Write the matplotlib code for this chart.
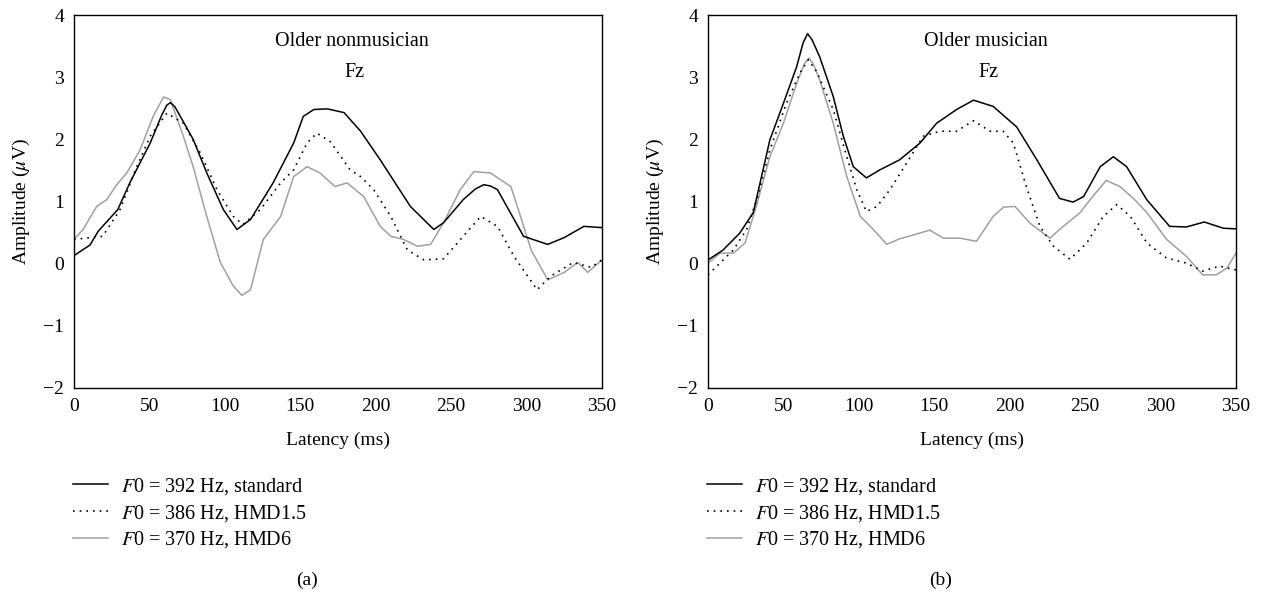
import numpy as np
import matplotlib.pyplot as plt
from matplotlib.lines import Line2D

plt.rcParams['font.family'] = ['Liberation Serif', 'DejaVu Serif']
plt.rcParams['mathtext.fontset'] = 'stix'

# ---- panel (a): older nonmusician ----
a_std_x = [0, 10.6, 16, 29, 37, 50.5, 58, 61.5, 64, 67, 79, 88, 99, 108, 117, 132, 145.6, 152, 159, 168, 179, 190,
           203, 223, 238.5, 245, 258, 266, 271.6, 276, 280.7, 298, 314, 325, 338, 350]
a_std_y = [0.13, 0.3, 0.52, 0.87, 1.3, 1.94, 2.38, 2.55, 2.59, 2.52, 2.0, 1.46, 0.87, 0.55, 0.71, 1.3, 1.94, 2.37,
           2.48, 2.49, 2.43, 2.13, 1.67, 0.92, 0.55, 0.66, 1.03, 1.2, 1.27, 1.25, 1.19, 0.44, 0.31, 0.42, 0.6, 0.58]

a_hmd15_x = [0, 19, 30.5, 41.6, 50.5, 61.5, 72.5, 83.7, 94.8, 105.6, 112, 123.5, 137, 145.6, 154.5, 161, 170, 183,
             190, 198.6, 210, 221, 232, 245, 258, 269.6, 280.7, 291.6, 307, 316, 331, 342.7, 350]
a_hmd15_y = [0.39, 0.44, 0.87, 1.56, 2.05, 2.42, 2.26, 1.78, 1.19, 0.76, 0.63, 0.87, 1.3, 1.51, 1.94, 2.1, 1.96,
             1.51, 1.4, 1.19, 0.76, 0.22, 0.06, 0.08, 0.44, 0.76, 0.6, 0.12, -0.42, -0.2, 0.02, -0.06, 0.06]

a_hmd6_x = [0, 6, 15, 21.7, 28.3, 35, 43.8, 52.5, 59.3, 63.8, 72.5, 79, 88, 97, 105.6, 111.3, 117, 125.5, 137,
            145.6, 154.5, 163, 173, 181, 192, 203, 210, 218.5, 227.6, 236.4, 245, 256, 265, 276, 289.6, 296,
            303, 314, 325, 334, 340.5, 350]
a_hmd6_y = [0.39, 0.55, 0.92, 1.03, 1.27, 1.46, 1.83, 2.37, 2.68, 2.64, 2.05, 1.56, 0.76, 0.02, -0.36, -0.51,
            -0.42, 0.39, 0.76, 1.4, 1.56, 1.46, 1.24, 1.3, 1.08, 0.6, 0.44, 0.39, 0.28, 0.31, 0.66, 1.19, 1.48,
            1.46, 1.24, 0.76, 0.22, -0.26, -0.14, 0.02, -0.14, 0.06]

# ---- panel (b): older musician ----
b_std_x = [0, 10, 21, 30, 41, 50, 58.8, 63, 66, 69, 74, 83, 89.7, 96.3, 105, 114, 127, 140.5, 151.6, 164.8, 176,
           189, 204.6, 218, 233, 242, 249, 260, 268.7, 277.5, 290.8, 306, 317, 329, 341.6, 350]
b_std_y = [0.06, 0.22, 0.49, 0.82, 1.99, 2.58, 3.17, 3.55, 3.7, 3.6, 3.33, 2.69, 2.05, 1.56, 1.38, 1.51, 1.67,
           1.94, 2.26, 2.48, 2.63, 2.53, 2.2, 1.67, 1.05, 0.99, 1.08, 1.56, 1.72, 1.56, 1.03, 0.6, 0.59, 0.67,
           0.57, 0.56]

b_hmd15_x = [0, 8, 16.8, 25.6, 33, 41, 52, 61, 66.5, 72, 83, 92, 98.6, 105, 112, 120.6, 131.7, 142.7, 153.8,
             164.8, 176, 187, 195.7, 202.4, 211, 220, 229, 240, 251, 262, 271, 280, 291, 304, 317, 328, 339, 350]
b_hmd15_y = [-0.18, 0.01, 0.22, 0.55, 1.08, 1.83, 2.58, 3.07, 3.28, 3.09, 2.48, 1.72, 1.19, 0.84, 0.92, 1.19,
             1.62, 2.05, 2.13, 2.13, 2.3, 2.13, 2.13, 1.94, 1.24, 0.6, 0.28, 0.07, 0.33, 0.76, 0.95, 0.76, 0.33,
             0.09, 0.01, -0.12, -0.04, -0.1]

b_hmd6_x = [0, 8, 16.8, 24.5, 32, 41, 50, 58.8, 64, 67, 70, 74, 83, 92, 101, 109.6, 118.5, 127, 136, 147, 156,
            167, 178, 189, 196, 203.5, 213.5, 226.7, 233, 246.6, 255, 264, 273, 282, 291, 304, 317, 328, 337,
            344, 350]
b_hmd6_y = [0.01, 0.17, 0.17, 0.33, 0.92, 1.72, 2.26, 2.9, 3.22, 3.31, 3.2, 2.96, 2.26, 1.4, 0.76, 0.55, 0.31,
            0.4, 0.46, 0.54, 0.41, 0.41, 0.36, 0.76, 0.91, 0.92, 0.65, 0.41, 0.55, 0.82, 1.08, 1.34, 1.24, 1.05,
            0.82, 0.39, 0.12, -0.18, -0.18, -0.07, 0.17]

legend_labels = ['$F$0 = 392 Hz, standard', '$F$0 = 386 Hz, HMD1.5', '$F$0 = 370 Hz, HMD6']
panel_titles = ['Older nonmusician', 'Older musician']
panel_tags = ['(a)', '(b)']

W, H = 1261, 594
fig = plt.figure(figsize=(W / 100, H / 100), dpi=100)

panels = [
    (74, (a_std_x, a_std_y), (a_hmd15_x, a_hmd15_y), (a_hmd6_x, a_hmd6_y)),
    (708, (b_std_x, b_std_y), (b_hmd15_x, b_hmd15_y), (b_hmd6_x, b_hmd6_y)),
]

for i, (left_px, std, hmd15, hmd6) in enumerate(panels):
    ax = fig.add_axes([left_px / W, (H - 388) / H, 528 / W, 373 / H])
    ax.plot(*hmd6, color='#a0a0a0', lw=1.1)
    ax.plot(*hmd15, color='black', lw=1.2, linestyle=(0, (1, 3)))
    ax.plot(*std, color='black', lw=1.1)

    ax.set_xlim(0, 350)
    ax.set_ylim(-2, 4)
    ax.set_xticks(np.arange(0, 351, 50))
    ax.set_yticks(np.arange(-2, 5, 1))
    ax.set_yticklabels(['\u22122', '\u22121', '0', '1', '2', '3', '4'])
    ax.tick_params(length=0, labelsize=14, pad=7)
    for sp in ax.spines.values():
        sp.set_linewidth(1.0)

    ax.set_xlabel('Latency (ms)', fontsize=14, labelpad=12)
    ax.set_ylabel('Amplitude ($\\mu$V)', fontsize=14, labelpad=8)

    ax.text(184, 3.57, panel_titles[i], ha='center', va='center', fontsize=14.5)
    ax.text(186, 3.07, 'Fz', ha='center', va='center', fontsize=14.5)

    handles = [Line2D([], [], color='black', lw=1.1),
               Line2D([], [], color='black', lw=1.2, linestyle=(0, (1, 3))),
               Line2D([], [], color='#a0a0a0', lw=1.1)]
    ax.legend(handles, legend_labels, loc='upper left',
              bbox_to_anchor=(-1 / 528, -0.235), frameon=False,
              fontsize=14.5, handlelength=1.75, handletextpad=0.65, labelspacing=0.3,
              borderaxespad=0, borderpad=0)

    fig.text((left_px + 233) / W, 1 - 580 / H, panel_tags[i], ha='center', va='center', fontsize=14)

fig.savefig('out.png', dpi=100)
